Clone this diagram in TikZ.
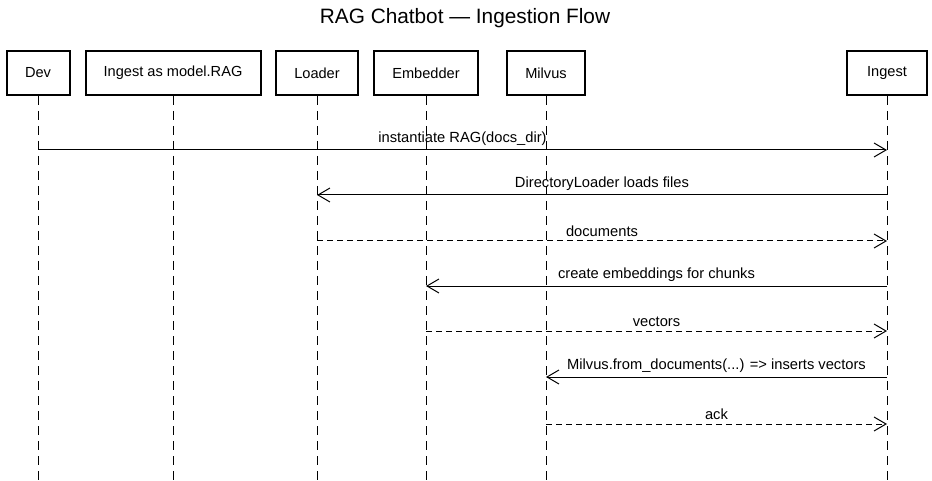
\documentclass[tikz,border=0pt]{standalone}
\usepackage{fontspec}
\setmainfont{Liberation Sans}
\usetikzlibrary{arrows.meta}

\begin{document}
\begin{tikzpicture}[x=1pt, y=-1pt,
                    actor/.style = {draw, line width=2, minimum height=44, inner sep=0, font=\fontsize{14.6}{16}\selectfont},
                    lifeline/.style = {dash pattern=on 9pt off 6pt, line width=1},
                    call/.style = {-{Straight Barb[length=12pt, width=14pt]}, line width=1},
                    reply/.style = {call, dash pattern=on 6pt off 4pt},
                    msglabel/.style = {above=1pt, font=\fontsize{14.7}{16}\selectfont}]
        \useasboundingbox (0,0) rectangle (932,481);
        \node[font=\fontsize{20.8}{22}\selectfont] (title) at (465,18) {RAG Chatbot — Ingestion Flow};
        \node[actor, minimum width=63] (dev) at (38,73) {Dev};
        \node[actor, minimum width=175] (rag) at (173,73) {Ingest as model.RAG};
        \node[actor, minimum width=82] (loader) at (317,73) {Loader};
        \node[actor, minimum width=104] (embedder) at (426,73) {Embedder};
        \node[actor, minimum width=78] (milvus) at (546,73) {Milvus};
        \node[actor, minimum width=80] (ingest) at (887,73) {Ingest};
        \foreach \p in {dev, rag, loader, embedder, milvus, ingest}
            \draw[lifeline] (\p.south) -- (\p.south |- 0,481);
        \draw[call] (dev |- 0,150) -- node[msglabel] {instantiate RAG(docs\_dir)} (ingest |- 0,150);
        \draw[call] (ingest |- 0,195) -- node[msglabel] {DirectoryLoader loads files} (loader |- 0,195);
        \draw[reply] (loader |- 0,241) -- node[msglabel] {documents} (ingest |- 0,241);
        \draw[call] (ingest |- 0,286) -- node[msglabel] {create embeddings for chunks} (embedder |- 0,286);
        \draw[reply] (embedder |- 0,331) -- node[msglabel] {vectors} (ingest |- 0,331);
        \draw[call] (ingest |- 0,377) -- node[msglabel] {Milvus.from\_documents(...) => inserts vectors} (milvus |- 0,377);
        \draw[reply] (milvus |- 0,424) -- node[msglabel] {ack} (ingest |- 0,424);
    \end{tikzpicture}
\end{document}
